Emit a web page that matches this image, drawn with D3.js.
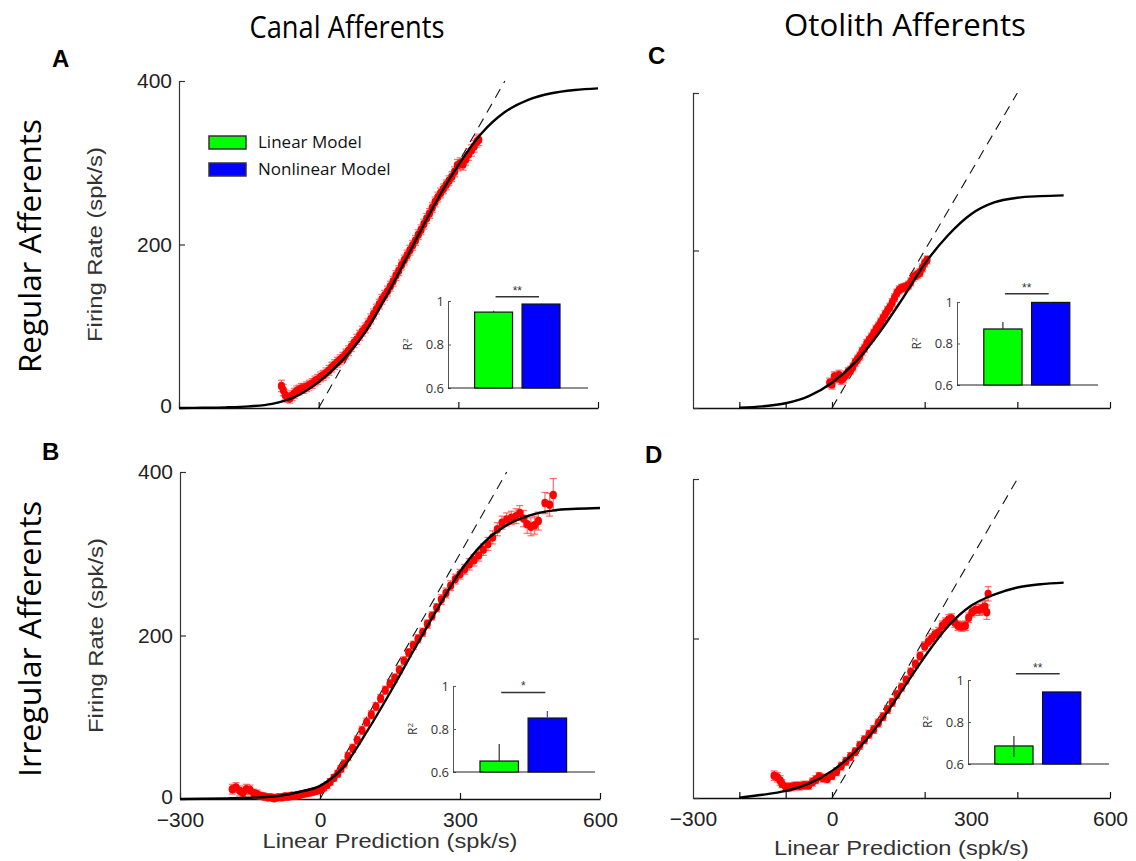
<!DOCTYPE html>
<html>
<head>
<meta charset="utf-8">
<script src="https://cdn.jsdelivr.net/npm/d3@7"></script>
<style>
  html, body { margin: 0; padding: 0; background: #fff; }
  svg { display: block; }
</style>
</head>
<body>
<svg id="chart" width="1136" height="861"></svg>
<script>
// ---------------- DATA ----------------
const xTickValues = [-300, 0, 300, 600];
const xTickLabels = ["\u2212300", "0", "300", "600"];
const otolithXTicks = [-200, -100, 0, 200, 400, 600];
const yTickValues = [0, 200, 400];
const yTickLabels = ["0", "200", "400"];
const identityLine = [[0, 0], [400, 400]];

const columnTitles = ["Canal Afferents", "Otolith Afferents"];
const rowTitles = ["Regular Afferents", "Irregular Afferents"];
const panelLetters = ["A", "B", "C", "D"];
const xAxisTitle = "Linear Prediction (spk/s)";
const yAxisTitle = "Firing Rate (spk/s)";

// sigmoid (nonlinear model) curves: [linear prediction, firing rate]
const curveA = [[-300,0],[-250,0.3],[-200,0.8],[-150,2],[-100,5],[-50,14],[0,32],[50,58],[100,93],[150,142],[200,196],[250,250],[300,297],[350,336],[400,362],[450,377],[500,385],[550,389],[600,391]];
const curveB = [[-300,0],[-250,0.3],[-200,0.8],[-150,1.5],[-100,3],[-50,8],[0,16],[50,39],[100,82],[150,130],[200,181],[250,231],[300,278],[350,313],[400,335],[450,347],[500,353],[550,355],[600,356]];
const curveC = [[-200,0.3],[-150,2],[-100,6],[-50,15],[0,32],[50,58],[100,94],[150,137],[200,183],[250,219],[300,246],[350,261],[400,267],[450,269],[500,270]];
const curveD = [[-200,0.5],[-150,4],[-100,9],[-50,18],[0,34],[50,58],[100,92],[150,134],[200,177],[250,215],[300,241],[350,255],[400,264],[450,268],[500,270]];

// binned data: [linear prediction, firing rate, s.e.m.]
const dataA = [[-80,27,7],[-76,22,7],[-72,16,6],[-67,13,6],[-62,12,6],[-57,15,6],[-52,18,6],[-47,21,6],[-42,22,6],[-37,24,6],[-32,24,6],[-26,26,6],[-20,28,6],[-14,30,6],[-8,33,6],[-2,35,6],[4,38,6],[10,40,6],[16,43,6],[22,46,6],[28,50,6],[34,53,6],[40,56,6],[46,59,6],[52,62,6],[58,66,6],[64,70,6],[70,75,6],[76,80,6],[82,84,6],[88,89,6],[94,94,6],[100,98,6],[106,103,6],[112,109,6],[118,115,6],[124,121,6],[130,127,6],[136,133,6],[142,138,6],[148,143,6],[154,149,6],[160,155,6],[166,162,6],[172,168,6],[178,175,6],[184,181,6],[190,187,6],[196,193,6],[202,199,6],[208,205,6],[214,212,6],[220,218,6],[226,225,6],[232,232,6],[238,238,6],[244,245,6],[250,252,6],[256,258,6],[262,263,6],[268,268,6],[274,273,6],[280,278,6],[286,283,6],[292,289,6],[298,297,7],[304,299,7],[310,298,7],[316,304,7],[322,310,7],[328,315,7],[334,320,7],[340,326,7],[344,328,7]];
const dataB = [[-188,12,6],[-180,14,6],[-172,10,6],[-165,8,5],[-158,12,6],[-150,11,6],[-142,7,5],[-135,6,5],[-128,4,4],[-120,3,4],[-112,2,4],[-105,2,4],[-98,1,4],[-90,2,4],[-82,2,4],[-75,3,4],[-68,3,4],[-60,4,4],[-52,4,4],[-45,5,4],[-38,6,4],[-30,7,4],[-22,8,4],[-15,9,4],[-8,10,4],[0,11,4],[8,14,4],[15,17,4],[22,21,4],[30,26,4],[38,31,4],[45,37,4],[52,43,5],[60,52,5],[70,62,5],[80,72,5],[90,84,5],[100,94,5],[110,103,5],[120,113,5],[130,123,5],[140,133,5],[150,141,5],[160,148,5],[170,158,5],[180,169,5],[190,179,5],[200,188,5],[210,196,5],[220,204,5],[230,214,5],[240,224,5],[250,234,5],[260,244,6],[270,252,6],[280,261,6],[290,269,6],[300,275,6],[310,281,6],[320,287,7],[330,292,7],[340,298,7],[350,305,7],[360,312,8],[370,320,8],[380,330,8],[390,338,8],[400,342,8],[410,344,8],[420,346,9],[428,350,9],[436,343,10],[444,336,11],[452,333,11],[460,335,11],[468,340,11],[482,362,13],[492,360,14],[500,372,20]];
const dataC = [[-5,32,6],[0,30,6],[5,40,6],[10,38,6],[15,42,6],[20,36,6],[25,38,6],[30,42,5],[35,46,5],[40,48,5],[45,52,5],[50,58,5],[55,62,5],[60,66,5],[65,72,5],[70,76,5],[75,82,5],[80,86,5],[85,90,5],[90,95,5],[95,100,5],[100,104,5],[105,109,5],[110,114,5],[115,119,5],[120,124,5],[125,128,5],[130,134,5],[135,140,5],[140,146,5],[145,150,5],[150,152,5],[155,153,5],[160,154,5],[165,156,5],[170,160,5],[175,166,5],[180,168,5],[185,170,5],[190,172,5],[195,178,5],[200,184,5],[205,188,5]];
const dataD = [[-125,28,6],[-118,26,6],[-112,22,6],[-108,18,5],[-100,14,5],[-95,13,5],[-88,14,5],[-80,15,5],[-70,15,5],[-60,16,5],[-50,16,5],[-42,20,5],[-35,23,5],[-28,27,5],[-20,25,5],[-10,24,5],[0,28,5],[10,33,5],[20,40,5],[30,46,5],[40,52,5],[50,58,5],[60,66,5],[70,73,5],[80,80,5],[90,86,5],[100,94,5],[110,102,5],[120,111,5],[130,120,5],[140,130,5],[150,139,5],[160,148,5],[170,158,5],[180,168,5],[190,178,5],[200,190,6],[208,196,6],[215,200,6],[222,205,6],[230,208,6],[238,216,6],[245,220,6],[252,224,6],[258,225,6],[265,220,6],[272,216,6],[280,215,6],[288,216,6],[295,226,6],[302,233,6],[310,236,7],[318,236,7],[325,238,8],[330,240,8],[334,233,9],[337,256,9]];

// inset bar charts: R^2 of the two models
const models = ["Linear Model", "Nonlinear Model"];
const r2A = [0.949, 0.986], r2ErrUpA = [0.006, 0.003], r2ErrDnA = [0, 0], sigA = "**";
const r2B = [0.651, 0.851], r2ErrUpB = [0.079, 0.033], r2ErrDnB = [0, 0], sigB = "*";
const r2C = [0.870, 0.998], r2ErrUpC = [0.034, 0.002], r2ErrDnC = [0, 0], sigC = "**";
const r2D = [0.686, 0.943], r2ErrUpD = [0.047, 0.004], r2ErrDnD = [0.053, 0], sigD = "**";
const r2Ticks = [0.6, 0.8, 1];

// ---------------- LAYOUT ----------------
const svg = d3.select("#chart");
const MYRIAD = "'Open Sans', 'Noto Sans', sans-serif";
const HELV = "'Liberation Sans', Arial, sans-serif";

const panels = [
  { curve: curveA, data: dataA, box: {l:179, r:598, t:81,  b:408}, yLabels: true,  xLabels: false, xt: xTickValues,
    inset: {l:448, r:588, t:301, b:388, vals:r2A, up:r2ErrUpA, dn:r2ErrDnA, sig:sigA, sigLevel:1.02}, legend: true },
  { curve: curveB, data: dataB, box: {l:180, r:600, t:472, b:799}, yLabels: true,  xLabels: true,  xt: xTickValues, titleDy: 49,
    inset: {l:453, r:595, t:686, b:772, vals:r2B, up:r2ErrUpB, dn:r2ErrDnB, sig:sigB, sigLevel:0.97} },
  { curve: curveC, data: dataC, box: {l:693, r:1110, t:93, b:408}, yLabels: false, xLabels: false, xt: otolithXTicks,
    inset: {l:957, r:1098, t:302, b:385, vals:r2C, up:r2ErrUpC, dn:r2ErrDnC, sig:sigC, sigLevel:1.04} },
  { curve: curveD, data: dataD, box: {l:693, r:1110, t:479, b:798}, yLabels: false, xLabels: true,  xt: otolithXTicks, titleDy: 57,
    inset: {l:968, r:1109, t:680, b:764, vals:r2D, up:r2ErrUpD, dn:r2ErrDnD, sig:sigD, sigLevel:1.03} }
];

panels.forEach((p) => {
  const g = svg.append("g");
  const x = d3.scaleLinear().domain([-300, 600]).range([p.box.l, p.box.r]);
  const y = d3.scaleLinear().domain([0, 400]).range([p.box.b, p.box.t]);

  // x axis (tick marks)
  const xa = g.append("g").attr("transform", `translate(0,${p.box.b})`)
    .call(d3.axisBottom(x).tickValues(p.xt).tickSizeInner(-6).tickSizeOuter(0).tickFormat(""));
  xa.select(".domain").attr("stroke", "#111").attr("stroke-width", 1.6);
  xa.selectAll(".tick line").attr("stroke", "#111").attr("stroke-width", 1.2);

  if (p.xLabels) {
    const xl = g.append("g").attr("transform", `translate(0,${p.box.b})`)
      .call(d3.axisBottom(x).tickValues(xTickValues).tickSize(0).tickPadding(13)
        .tickFormat((d, i) => xTickLabels[i]));
    xl.select(".domain").remove();
    xl.selectAll("text").attr("font-family", HELV).attr("font-size", 21).attr("fill", "#222");
    g.append("text").attr("x", (x(-300) + x(600)) / 2).attr("y", p.box.b + p.titleDy)
      .attr("text-anchor", "middle").attr("font-family", HELV).attr("font-size", 21).attr("fill", "#333")
      .attr("textLength", 255).attr("lengthAdjust", "spacingAndGlyphs")
      .text(xAxisTitle);
  }

  // y axis
  const ya = g.append("g").attr("transform", `translate(${p.box.l},0)`)
    .call(d3.axisLeft(y).tickValues(yTickValues).tickSizeInner(-6).tickSizeOuter(0).tickPadding(7)
      .tickFormat((d, i) => p.yLabels ? yTickLabels[i] : ""));
  ya.select(".domain").attr("stroke", "#333").attr("stroke-width", 1.2);
  ya.selectAll(".tick line").attr("stroke", "#333").attr("stroke-width", 1.2);
  ya.selectAll("text").attr("font-family", HELV).attr("font-size", 21).attr("fill", "#222");
  ya.selectAll(".tick").filter(d => d === 0).select("text").attr("dy", "0.22em");

  if (p.yLabels) {
    const cy = (p.box.t + p.box.b) / 2;
    g.append("text").attr("transform", `translate(${p.box.l - 77},${cy}) rotate(-90)`)
      .attr("text-anchor", "middle").attr("font-family", HELV).attr("font-size", 20).attr("fill", "#333")
      .attr("textLength", 195).attr("lengthAdjust", "spacingAndGlyphs")
      .text(yAxisTitle);
  }

  // identity (linear model) line
  g.append("path").datum(identityLine)
    .attr("d", d3.line().x(d => x(d[0])).y(d => y(d[1])))
    .attr("fill", "none").attr("stroke", "#111").attr("stroke-width", 1.1).attr("stroke-dasharray", "10,7");

  // data error bars
  const eb = g.append("g").attr("stroke", "#ff2020").attr("stroke-opacity", 0.65).attr("stroke-width", 1.2);
  p.data.forEach(d => {
    const cx = x(d[0]);
    eb.append("line").attr("x1", cx).attr("x2", cx).attr("y1", y(d[1] - d[2])).attr("y2", y(d[1] + d[2]));
    eb.append("line").attr("x1", cx - 3.5).attr("x2", cx + 3.5).attr("y1", y(d[1] - d[2])).attr("y2", y(d[1] - d[2]));
    eb.append("line").attr("x1", cx - 3.5).attr("x2", cx + 3.5).attr("y1", y(d[1] + d[2])).attr("y2", y(d[1] + d[2]));
  });
  g.append("g").selectAll("ellipse").data(p.data).join("ellipse")
    .attr("cx", d => x(d[0])).attr("cy", d => y(d[1])).attr("rx", 3.6).attr("ry", 4.2).attr("fill", "#ff0000");

  // nonlinear model curve
  g.append("path").datum(p.curve)
    .attr("d", d3.line().x(d => x(d[0])).y(d => y(d[1])).curve(d3.curveMonotoneX))
    .attr("fill", "none").attr("stroke", "#000").attr("stroke-width", 2.4);

  // inset
  const ins = p.inset;
  const iy = d3.scaleLinear().domain([0.6, 1]).range([ins.b, ins.t]);
  const w = ins.r - ins.l;
  const ix = d3.scaleBand().domain(models).range([ins.l + 0.19 * w, ins.l + 0.80 * w]).paddingInner(0.2);
  const ig = svg.append("g");
  const iya = ig.append("g").attr("transform", `translate(${ins.l},0)`)
    .call(d3.axisLeft(iy).tickValues(r2Ticks).tickSizeInner(-3).tickSizeOuter(0).tickPadding(4)
      .tickFormat(d => d === 1 ? "1" : d.toFixed(1)));
  iya.select(".domain").attr("stroke", "#555").attr("stroke-width", 1);
  iya.selectAll(".tick line").attr("stroke", "#555");
  iya.selectAll("text").attr("font-family", MYRIAD).attr("font-size", 13).attr("fill", "#333");
  ig.append("line").attr("x1", ins.l).attr("x2", ins.r).attr("y1", iy(0.6)).attr("y2", iy(0.6))
    .attr("stroke", "#222").attr("stroke-width", 1.2);
  ig.append("text").attr("transform", `translate(${ins.l - 36},${iy(0.8)}) rotate(-90)`)
    .attr("text-anchor", "middle").attr("font-family", MYRIAD).attr("font-size", 12).attr("fill", "#333")
    .html("R<tspan dy='-4' font-size='8'>2</tspan>");
  const barColors = ["#00ff00", "#0000ff"];
  const errColors = ["#333", "#4444ff"];
  models.forEach((m, i) => {
    ig.append("rect").attr("x", ix(m)).attr("width", ix.bandwidth())
      .attr("y", iy(ins.vals[i])).attr("height", iy(0.6) - iy(ins.vals[i]))
      .attr("fill", barColors[i]).attr("stroke", "#111").attr("stroke-width", 1.2);
    const cx = ix(m) + ix.bandwidth() / 2;
    ig.append("line").attr("x1", cx).attr("x2", cx)
      .attr("y1", iy(ins.vals[i] - ins.dn[i])).attr("y2", iy(ins.vals[i] + ins.up[i]))
      .attr("stroke", errColors[i]).attr("stroke-width", 1.2);
  });
  const sx1 = ix(models[0]) + ix.bandwidth() / 2 + 2, sx2 = ix(models[1]) + ix.bandwidth() / 2 - 2;
  ig.append("line").attr("x1", sx1).attr("x2", sx2).attr("y1", iy(ins.sigLevel)).attr("y2", iy(ins.sigLevel))
    .attr("stroke", "#333").attr("stroke-width", 1.5);
  ig.append("text").attr("x", (sx1 + sx2) / 2).attr("y", iy(ins.sigLevel) - 2)
    .attr("text-anchor", "middle").attr("font-family", HELV).attr("font-size", 12).attr("fill", "#333")
    .text(ins.sig);

  // legend
  if (p.legend) {
    const lg = svg.append("g");
    models.forEach((m, i) => {
      lg.append("rect").attr("x", 209).attr("y", 136 + i * 27).attr("width", 37).attr("height", 13)
        .attr("fill", barColors[i]).attr("stroke", "#333").attr("stroke-width", 1.5);
      lg.append("text").attr("x", 258).attr("y", 148 + i * 27)
        .attr("font-family", MYRIAD).attr("font-size", 17).attr("fill", "#111").text(m);
    });
  }
});

// titles
svg.append("text").attr("x", 347).attr("y", 38).attr("text-anchor", "middle")
  .attr("font-family", MYRIAD).attr("font-size", 31).attr("fill", "#000")
  .attr("textLength", 195).attr("lengthAdjust", "spacingAndGlyphs").text(columnTitles[0]);
svg.append("text").attr("x", 905).attr("y", 36).attr("text-anchor", "middle")
  .attr("font-family", MYRIAD).attr("font-size", 31).attr("fill", "#000")
  .attr("textLength", 242).attr("lengthAdjust", "spacingAndGlyphs").text(columnTitles[1]);
svg.append("text").attr("transform", "translate(41,246) rotate(-90)").attr("text-anchor", "middle")
  .attr("font-family", MYRIAD).attr("font-size", 31).attr("fill", "#000")
  .attr("textLength", 254).attr("lengthAdjust", "spacingAndGlyphs").text(rowTitles[0]);
svg.append("text").attr("transform", "translate(41,639) rotate(-90)").attr("text-anchor", "middle")
  .attr("font-family", MYRIAD).attr("font-size", 31).attr("fill", "#000")
  .attr("textLength", 276).attr("lengthAdjust", "spacingAndGlyphs").text(rowTitles[1]);

// panel letters
const letterPos = [[52, 67], [42, 460], [648, 64], [645, 463]];
panelLetters.forEach((L, i) => {
  svg.append("text").attr("x", letterPos[i][0]).attr("y", letterPos[i][1])
    .attr("font-family", HELV).attr("font-weight", "bold").attr("font-size", 24).attr("fill", "#000").text(L);
});
</script>
</body>
</html>
